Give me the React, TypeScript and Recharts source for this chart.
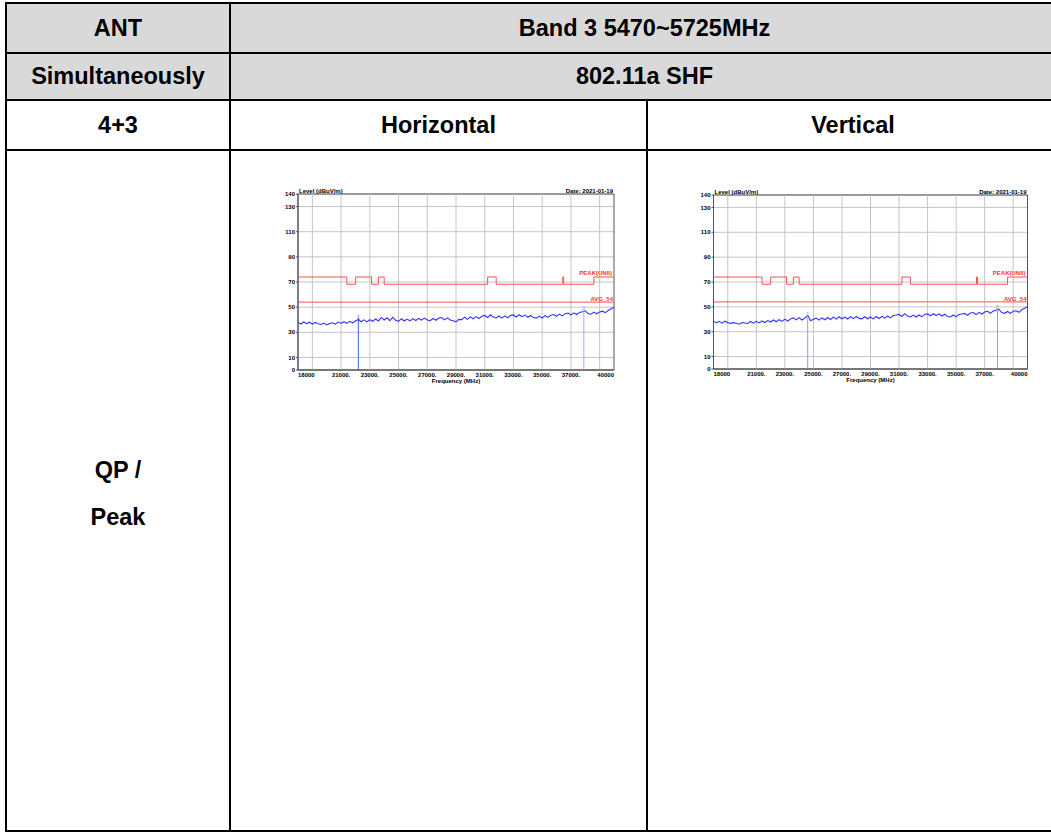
import React from 'react';
import {
  LineChart,
  Line,
  XAxis,
  YAxis,
  CartesianGrid,
  ReferenceLine,
  ReferenceArea,
  ReferenceDot,
} from 'recharts';

// ---------- DATA ----------
const FREQS = [
  18000, 18200, 18400, 18600, 18800, 19000, 19200, 19400, 19600, 19800,
  20000, 20200, 20400, 20600, 20800, 21000, 21200, 21400, 21600, 21800,
  22000, 22200, 22400, 22600, 22800, 23000, 23200, 23400, 23600, 23800,
  24000, 24200, 24400, 24600, 24800, 25000, 25200, 25400, 25600, 25800,
  26000, 26200, 26400, 26600, 26800, 27000, 27200, 27400, 27600, 27800,
  28000, 28200, 28400, 28600, 28800, 29000, 29200, 29400, 29600, 29800,
  30000, 30200, 30400, 30600, 30800, 31000, 31200, 31400, 31600, 31800,
  32000, 32200, 32400, 32600, 32800, 33000, 33200, 33400, 33600, 33800,
  34000, 34200, 34400, 34600, 34800, 35000, 35200, 35400, 35600, 35800,
  36000, 36200, 36400, 36600, 36800, 37000, 37200, 37400, 37600, 37800,
  38000, 38200, 38400, 38600, 38800, 39000, 39200, 39400, 39600, 39800,
  40000,
];

const H_TRACE = [
  37.8, 36.6, 38.2, 36.9, 38.0, 36.5, 37.8, 36.8, 36.2, 37.3,
  35.9, 37.0, 37.6, 36.5, 38.1, 37.0, 38.4, 37.1, 38.7, 37.5,
  39.0, 40.2, 38.4, 39.9, 38.3, 40.0, 38.7, 40.6, 39.0, 41.8,
  39.8, 41.5, 39.3, 42.0, 39.6, 38.7, 40.8, 39.0, 40.5, 39.1,
  40.9, 39.4, 41.1, 39.7, 41.3, 39.8, 39.3, 41.0, 39.6, 41.4,
  41.7, 39.9, 41.5, 39.8, 39.1, 38.3, 40.3, 40.1, 42.0, 40.3,
  42.3, 40.8, 42.5, 41.0, 42.7, 43.4, 41.8, 43.9, 42.1, 41.4,
  43.0, 41.3, 43.1, 41.6, 43.5, 43.8, 42.2, 44.0, 42.4, 43.7,
  41.9, 43.4, 41.7, 41.3, 42.9, 41.4, 43.3, 41.9, 43.6, 44.1,
  42.7, 44.5, 43.0, 44.8, 45.3, 43.8, 45.5, 44.1, 45.8, 46.4,
  47.1, 44.9, 44.4, 46.1, 44.7, 46.2, 46.8, 45.6, 47.4, 48.7,
  49.8,
];

const V_TRACE = [
  38.5, 37.1, 38.4, 36.9, 38.5, 37.2, 36.7, 37.3, 36.8, 36.0,
  37.3, 37.0, 36.6, 38.2, 36.9, 38.4, 37.1, 38.7, 37.4, 39.0,
  37.8, 39.4, 38.0, 39.7, 38.3, 40.1, 38.6, 40.3, 41.1, 39.5,
  41.3, 39.4, 40.9, 43.2, 38.8, 40.0, 40.9, 39.3, 41.1, 39.6,
  41.4, 39.8, 41.7, 40.1, 42.0, 40.4, 41.8, 40.2, 42.1, 40.5,
  42.3, 40.7, 40.3, 42.0, 40.4, 41.9, 40.3, 42.2, 40.6, 42.4,
  40.9, 42.7, 41.1, 43.0, 43.4, 43.9, 42.3, 44.5, 42.6, 41.9,
  43.4, 41.8, 43.5, 42.1, 43.9, 44.3, 42.7, 44.5, 43.0, 44.4,
  42.6, 44.1, 42.3, 41.9, 43.5, 42.1, 43.8, 44.3, 44.7, 43.2,
  45.0, 45.4, 43.8, 45.6, 44.2, 45.9, 46.4, 44.8, 46.7, 47.3,
  48.0, 45.4, 44.8, 46.3, 44.7, 46.4, 46.9, 45.6, 47.7, 48.9,
  50.0,
];

// PEAK(UNII) limit (step line)
const LIMIT_FREQS = [18000, 21400, 22010, 23120, 23600, 24000, 31200, 31800, 36430, 36500, 38600, 40000];
const LIMIT_LEVELS = [74, 68.2, 74, 68.2, 74, 68.2, 74, 68.2, 74, 68.2, 74, 74];
const AVG_LIMIT = 54;

// markers
const H_MARKER_FREQS = [22200, 37900];
const H_MARKER_LEVELS = [40.0, 46.6];
const V_MARKER_FREQS = [24600, 37900];
const V_MARKER_LEVELS = [41.5, 47.5];
const MARKER_NAMES = ['1', '2'];

// axes
const X_TICKS = [18000, 21000, 23000, 25000, 27000, 29000, 31000, 33000, 35000, 37000, 40000];
const X_TICK_LABELS = ['18000', '21000.', '23000.', '25000.', '27000.', '29000.', '31000.', '33000.', '35000.', '37000.', '40000'];
const GRID_X = [19000, 21000, 23000, 25000, 27000, 29000, 31000, 33000, 35000, 37000, 39000];
const Y_TICKS = [0, 10, 30, 50, 70, 90, 110, 130, 140];

// table text
const ROW1 = ['ANT', 'Band 3 5470~5725MHz'];
const ROW2 = ['Simultaneously', '802.11a SHF'];
const ROW3 = ['4+3', 'Horizontal', 'Vertical'];
const ROW4 = ['QP /', 'Peak'];
const Y_TITLE = 'Level (dBuV/m)';
const DATE_TEXT = 'Date: 2021-01-19';
const X_TITLE = 'Frequency (MHz)';
const PEAK_NAME = 'PEAK(UNII)';
const AVG_NAME = 'AVG_54';

// ---------- STYLE ----------
const FONT = '"Liberation Sans", Arial, sans-serif';
const GRID = '#c4c4c4';
const FRAME = '#555555';
const RED = '#ff5050';
const BLUE = '#3333ff';

const renderXTick = (props: any) => {
  const { x, y, payload } = props;
  const i = X_TICKS.indexOf(payload.value);
  const anchor = i === 0 ? 'start' : i === X_TICKS.length - 1 ? 'end' : 'middle';
  return (
    <text x={x} y={y} dy="0.71em" textAnchor={anchor} fontSize={6} fontWeight="bold" fill="#000" fontFamily={FONT}>
      {X_TICK_LABELS[i]}
    </text>
  );
};

type PanelProps = {
  left: number;
  top: number;
  width: number;
  height: number;
  yAxisWidth: number;
  mTop: number;
  mRight: number;
  xAxisHeight: number;
  trace: number[];
  markerFreqs: number[];
  markerLevels: number[];
  markerColors: string[];
};

function Panel(p: PanelProps) {
  const traceData = FREQS.map((f, i) => ({ f, v: p.trace[i] }));
  const limitData = LIMIT_FREQS.map((f, i) => ({ f, v: LIMIT_LEVELS[i] }));
  const labelStyle = { fontSize: 6, fontWeight: 'bold', fontFamily: FONT };
  return (
    <div style={{ position: 'absolute', left: p.left, top: p.top, fontFamily: FONT }}>
      <LineChart
        width={p.width}
        height={p.height}
        margin={{ top: p.mTop, right: p.mRight, bottom: 0, left: 0 }}
      >
        <CartesianGrid vertical={false} stroke={GRID} />
        {GRID_X.map((g) => (
          <ReferenceLine key={'g' + g} x={g} stroke={GRID} />
        ))}
        <XAxis
          type="number"
          dataKey="f"
          domain={[18000, 40000]}
          ticks={X_TICKS}
          interval={0}
          allowDataOverflow
          height={p.xAxisHeight}
          tick={renderXTick}
          tickLine={false}
          tickSize={2}
          tickMargin={1}
          axisLine={{ stroke: FRAME }}
          label={{ value: X_TITLE, position: 'insideTop', offset: 9, ...labelStyle, fill: '#000' }}
        />
        <YAxis
          type="number"
          dataKey="v"
          domain={[0, 140]}
          ticks={Y_TICKS}
          interval={0}
          allowDataOverflow
          width={p.yAxisWidth}
          tick={{ fontSize: 6, fontWeight: 'bold', fill: '#000', fontFamily: FONT }}
          tickSize={2}
          tickMargin={1}
          tickLine={{ stroke: FRAME }}
          axisLine={{ stroke: FRAME }}
        />
        <ReferenceArea x1={18000} x2={40000} y1={0} y2={140} fill="none" fillOpacity={0} stroke={FRAME} strokeWidth={1} />
        <ReferenceLine
          y={140}
          stroke="none"
          label={{ value: Y_TITLE, position: 'insideBottomLeft', offset: 1, ...labelStyle, fill: '#000' }}
        />
        <ReferenceLine
          y={140}
          stroke="none"
          label={{ value: DATE_TEXT, position: 'insideBottomRight', offset: 1, ...labelStyle, fill: '#000' }}
        />
        <ReferenceLine
          y={AVG_LIMIT}
          stroke={RED}
          strokeWidth={1}
          label={{ value: AVG_NAME, position: 'insideBottomRight', offset: 1, ...labelStyle, fill: '#ff3030' }}
        />
        <ReferenceLine
          y={74}
          stroke="none"
          label={{ value: PEAK_NAME, position: 'insideBottomRight', offset: 2, ...labelStyle, fill: '#ff3030' }}
        />
        <Line
          data={limitData}
          dataKey="v"
          type="stepAfter"
          stroke={RED}
          strokeWidth={1}
          dot={false}
          isAnimationActive={false}
        />
        <Line
          data={traceData}
          dataKey="v"
          type="linear"
          stroke={BLUE}
          strokeWidth={1.1}
          dot={false}
          isAnimationActive={false}
        />
        {p.markerFreqs.map((f, i) => (
          <Line
            key={'m' + i}
            data={[
              { f, v: 0 },
              { f, v: p.markerLevels[i] },
            ]}
            dataKey="v"
            type="linear"
            stroke={p.markerColors[i]}
            strokeWidth={1}
            dot={false}
            isAnimationActive={false}
          />
        ))}
        {p.markerFreqs.map((f, i) => (
          <ReferenceDot
            key={'d' + i}
            x={f}
            y={p.markerLevels[i]}
            r={0.01}
            fill="none"
            stroke="none"
            label={{ value: MARKER_NAMES[i], position: 'top', offset: 1, fontSize: 6, fill: p.markerColors[i], fontFamily: FONT }}
          />
        ))}
      </LineChart>
    </div>
  );
}

const cellText: React.CSSProperties = {
  position: 'absolute',
  display: 'flex',
  alignItems: 'center',
  justifyContent: 'center',
  fontWeight: 'bold',
  fontSize: 23.5,
  color: '#000',
  fontFamily: FONT,
  whiteSpace: 'nowrap',
};

function Cell({ x, y, w, h, children }: { x: number; y: number; w: number; h: number; children: React.ReactNode }) {
  return <div style={{ ...cellText, left: x, top: y, width: w, height: h }}>{children}</div>;
}

function Bar({ x, y, w, h }: { x: number; y: number; w: number; h: number }) {
  return <div style={{ position: 'absolute', left: x, top: y, width: w, height: h, background: '#000' }} />;
}

export default function App() {
  return (
    <div
      style={{
        position: 'absolute',
        left: 0,
        top: 0,
        width: 1051,
        height: 832,
        overflow: 'hidden',
        background: '#fff',
        fontFamily: FONT,
      }}
    >
      {/* gray header rows */}
      <div style={{ position: 'absolute', left: 5, top: 2, width: 1060, height: 98, background: '#d9d9d9' }} />

      <Cell x={7} y={4} w={222} h={48}>{ROW1[0]}</Cell>
      <Cell x={231} y={4} w={827} h={48}>{ROW1[1]}</Cell>
      <Cell x={7} y={54} w={222} h={45}>{ROW2[0]}</Cell>
      <Cell x={231} y={54} w={827} h={45}>{ROW2[1]}</Cell>
      <Cell x={7} y={101} w={222} h={48}>{ROW3[0]}</Cell>
      <Cell x={231} y={101} w={415} h={48}>{ROW3[1]}</Cell>
      <Cell x={648} y={101} w={410} h={48}>{ROW3[2]}</Cell>
      <div
        style={{
          ...cellText,
          left: 7,
          top: 154,
          width: 222,
          height: 679,
          flexDirection: 'column',
          lineHeight: '47px',
        }}
      >
        <div>{ROW4[0]}</div>
        <div>{ROW4[1]}</div>
      </div>

      {/* table lines */}
      <Bar x={5} y={2} w={1060} h={2} />
      <Bar x={5} y={52} w={1060} h={2} />
      <Bar x={5} y={99} w={1060} h={2} />
      <Bar x={5} y={149} w={1060} h={2} />
      <Bar x={5} y={830} w={1060} h={2} />
      <Bar x={5} y={2} w={2} h={830} />
      <Bar x={229} y={2} w={2} h={830} />
      <Bar x={646} y={99} w={2} h={733} />

      <Panel
        left={262}
        top={178}
        width={360}
        height={225}
        yAxisWidth={36}
        mTop={16}
        mRight={8}
        xAxisHeight={33}
        trace={H_TRACE}
        markerFreqs={H_MARKER_FREQS}
        markerLevels={H_MARKER_LEVELS}
        markerColors={['#3f5bff', '#9ea9ff']}
      />
      <Panel
        left={678}
        top={178}
        width={360}
        height={225}
        yAxisWidth={35.5}
        mTop={17}
        mRight={10.5}
        xAxisHeight={34}
        trace={V_TRACE}
        markerFreqs={V_MARKER_FREQS}
        markerLevels={V_MARKER_LEVELS}
        markerColors={['#8f9cff', '#8f9cff']}
      />
    </div>
  );
}
